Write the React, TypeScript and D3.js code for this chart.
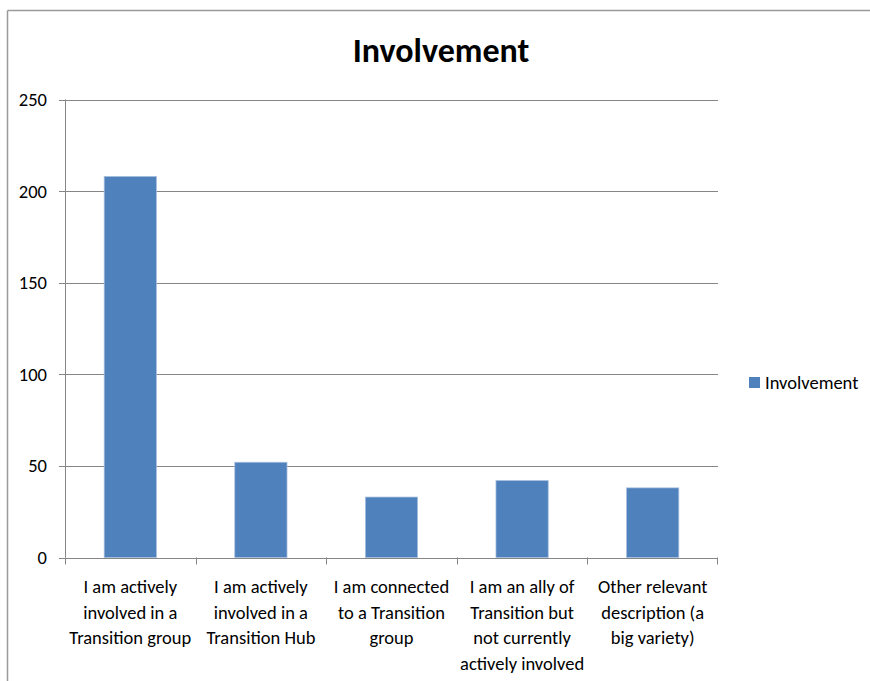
import React from "react";
import * as d3 from "d3";

const categories: string[][] = [
  ["I am actively", "involved in a", "Transition group"],
  ["I am actively", "involved in a", "Transition Hub"],
  ["I am connected", "to a Transition", "group"],
  ["I am an ally of", "Transition but", "not currently", "actively involved"],
  ["Other relevant", "description (a", "big variety)"],
];
const values: number[] = [208, 52, 33, 42, 38];
const yTicks: number[] = [0, 50, 100, 150, 200, 250];
const seriesName = "Involvement";
const title = "Involvement";

const W = 870;
const H = 681;
const FONT = "Calibri, Carlito, 'Open Sans', sans-serif";
const LABEL_SIZE = 18.5;

export default function App() {
  const left = 65;
  const right = 718;
  const top = 99.5;
  const bottom = 557.5;

  const x = d3
    .scaleBand<number>()
    .domain(values.map((_, i) => i))
    .range([left, right])
    .paddingInner(0.6)
    .paddingOuter(0.3);
  const xBand = d3.scaleBand<number>().domain(values.map((_, i) => i)).range([left, right]);
  const y = d3.scaleLinear().domain([0, 250]).range([bottom, top]);

  const grid = "#868686";

  return (
    <svg width={W} height={H} style={{ position: "absolute", left: 0, top: 0 }}>
      <rect x={0} y={0} width={W} height={H} fill="#fff" />
      {/* chart frame */}
      <line x1={7.5} y1={10.5} x2={W} y2={10.5} stroke="#9a9a9a" strokeWidth={1.5} />
      <line x1={7.5} y1={10.5} x2={7.5} y2={H} stroke="#9a9a9a" strokeWidth={1.5} />

      <text
        x={441}
        y={62}
        textAnchor="middle"
        fontFamily={FONT}
        fontWeight="bold"
        fontSize={34}
        fill="#000"
      >
        {title}
      </text>

      {/* gridlines and y ticks */}
      {yTicks.map((t) => (
        <g key={t}>
          <line x1={59} x2={right} y1={Math.round(y(t)) + 0.5} y2={Math.round(y(t)) + 0.5} stroke={grid} strokeWidth={1} />
          <text
            x={47}
            y={y(t)}
            dy="0.35em"
            textAnchor="end"
            fontFamily={FONT}
            fontSize={LABEL_SIZE}
            fill="#000"
          >
            {t}
          </text>
        </g>
      ))}
      <line x1={65.5} x2={65.5} y1={top} y2={bottom} stroke={grid} />

      {/* category ticks */}
      {values.map((_, i) => (
        <line
          key={i}
          x1={Math.round(xBand(i)!) + 0.5}
          x2={Math.round(xBand(i)!) + 0.5}
          y1={bottom}
          y2={bottom + 7}
          stroke={grid}
        />
      ))}
      <line x1={right - 0.5} x2={right - 0.5} y1={bottom} y2={bottom + 7} stroke={grid} />

      {/* bars */}
      {values.map((v, i) => (
        <rect
          key={i}
          x={x(i)!}
          y={y(v)}
          width={x.bandwidth()}
          height={y(0) - y(v)}
          fill="#4F81BD"
          stroke="#a7bfde"
          strokeWidth={0.75}
        />
      ))}

      {/* category labels */}
      {categories.map((lines, i) => (
        <text
          key={i}
          x={xBand(i)! + xBand.bandwidth() / 2}
          y={593}
          textAnchor="middle"
          fontFamily={FONT}
          fontSize={LABEL_SIZE}
          fill="#000"
        >
          {lines.map((l, j) => (
            <tspan key={j} x={xBand(i)! + xBand.bandwidth() / 2} dy={j === 0 ? 0 : 25.5}>
              {l}
            </tspan>
          ))}
        </text>
      ))}

      {/* legend */}
      <rect x={749} y={377} width={11} height={11} fill="#4F81BD" />
      <text x={765} y={383} dy="0.35em" fontFamily={FONT} fontSize={LABEL_SIZE} fill="#000">
        {seriesName}
      </text>
    </svg>
  );
}
